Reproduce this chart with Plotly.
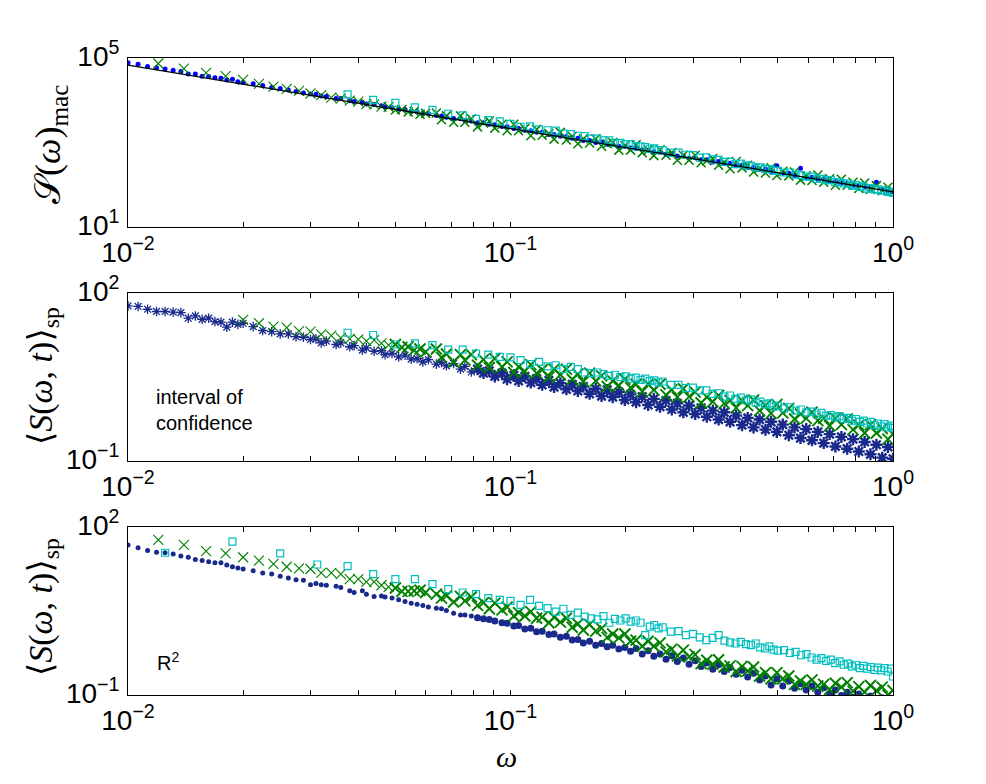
import plotly.graph_objects as go

# ---------------- frequency grids (omega) ----------------
omega_blue_sparse = [0.01, 0.010625, 0.01125, 0.011875, 0.0125, 0.013125, 0.01375, 0.014375,
                     0.015, 0.015625, 0.01625, 0.016875, 0.0175, 0.018125, 0.01875, 0.019375,
                     0.02, 0.02125, 0.0225, 0.02375, 0.025, 0.02625, 0.0275, 0.02875, 0.03]
omega_dense = [0.031, 0.032, 0.033, 0.035, 0.036, 0.038, 0.039, 0.041, 0.042, 0.044,
               0.046, 0.047, 0.049, 0.051, 0.053, 0.055, 0.057, 0.059, 0.061, 0.064,
               0.066, 0.068, 0.071, 0.074, 0.076, 0.079, 0.082, 0.085, 0.088, 0.091,
               0.095, 0.098, 0.102, 0.105, 0.109, 0.113, 0.117, 0.121, 0.126, 0.130,
               0.135, 0.140, 0.145, 0.150, 0.155, 0.161, 0.167, 0.173, 0.179, 0.185,
               0.192, 0.199, 0.206, 0.213, 0.221, 0.229, 0.237, 0.246, 0.255, 0.264,
               0.273, 0.283, 0.293, 0.304, 0.315, 0.326, 0.338, 0.350, 0.362, 0.375,
               0.389, 0.403, 0.417, 0.432, 0.448, 0.464, 0.480, 0.497, 0.515, 0.534,
               0.553, 0.573, 0.593, 0.614, 0.636, 0.659, 0.683, 0.707, 0.733, 0.759,
               0.786, 0.814, 0.843, 0.873, 0.905, 0.937, 0.970, 1.000]
omega_green_sparse = [0.012, 0.014, 0.016, 0.018, 0.020, 0.022, 0.024, 0.026, 0.028, 0.030,
                      0.032, 0.034, 0.036, 0.038, 0.040, 0.042, 0.044, 0.046, 0.048, 0.050,
                      0.052, 0.054, 0.056, 0.058, 0.060]
omega_cyan = [0.0125, 0.01875, 0.025, 0.03125, 0.0375, 0.04375, 0.05, 0.05625, 0.0625, 0.06875,
              0.075, 0.08125, 0.0875, 0.09375, 0.1, 0.10625, 0.1125, 0.11875, 0.125, 0.13125,
              0.1375, 0.14375, 0.15, 0.15625, 0.1625, 0.16875, 0.175, 0.18125, 0.1875, 0.19375,
              0.2, 0.20625, 0.2125, 0.21875, 0.225, 0.23125, 0.2375, 0.24375, 0.25,
              0.2625, 0.275, 0.2875, 0.3, 0.3125, 0.325, 0.3375, 0.35, 0.3625, 0.375,
              0.3875, 0.4, 0.4125, 0.425, 0.4375, 0.45, 0.4625, 0.475, 0.4875, 0.5,
              0.51875, 0.5375, 0.55625, 0.575, 0.59375, 0.6125, 0.63125, 0.65, 0.66875, 0.6875,
              0.70625, 0.725, 0.74375, 0.7625, 0.78125, 0.8, 0.81875, 0.8375, 0.85625, 0.875,
              0.89375, 0.9125, 0.93125, 0.95, 0.96875, 0.9875, 1.0]
omega_fit = [0.01, 1.0]

omega_blue = omega_blue_sparse + omega_dense
omega_green = omega_green_sparse + omega_dense[19:]

# ---------------- values (stored as log10 of the plotted quantity) ----------------
# Panel 1: S(omega)_mac
mac_blue_log = [4.89, 4.85, 4.80, 4.77, 4.74, 4.71, 4.68, 4.62, 4.62, 4.57, 4.56, 4.53, 4.52, 4.48, 4.50,
                4.44, 4.42, 4.39, 4.35, 4.30, 4.28, 4.24, 4.21, 4.17, 4.15,
                4.14, 4.10, 4.09, 4.04, 4.04, 3.99, 3.97, 3.95, 3.91, 3.90,
                3.87, 3.84, 3.83, 3.79, 3.78, 3.74, 3.73, 3.69, 3.68, 3.64,
                3.63, 3.60, 3.57, 3.56, 3.52, 3.51, 3.47, 3.47, 3.43, 3.42,
                3.38, 3.37, 3.33, 3.33, 3.29, 3.28, 3.24, 3.24, 3.19, 3.19,
                3.15, 3.14, 3.10, 3.10, 3.05, 3.05, 3.00, 3.01, 2.96, 2.95,
                2.91, 2.91, 2.87, 2.86, 2.82, 2.82, 2.78, 2.77, 2.72, 2.73,
                2.68, 2.68, 2.63, 2.64, 2.59, 2.59, 2.54, 2.55, 2.50, 2.51,
                2.45, 2.46, 2.40, 2.41, 2.36, 2.37, 2.31, 2.45, 2.27, 2.27,
                2.22, 2.39, 2.17, 2.18, 2.13, 2.13, 2.08, 2.08, 2.04, 2.03,
                1.99, 1.99, 1.95, 1.94, 2.06, 1.89, 1.85, 1.84]
mac_green_log = [4.87, 4.75, 4.65, 4.57, 4.48, 4.39, 4.32, 4.27, 4.22, 4.16, 4.12, 4.06, 4.04,
                 3.99, 3.97, 3.91, 3.90, 3.85, 3.84, 3.77, 3.78, 3.72, 3.74, 3.67, 3.69,
                 3.70, 3.54, 3.63, 3.48, 3.63, 3.48, 3.56, 3.37, 3.46, 3.51,
                 3.34, 3.43, 3.28, 3.43, 3.28, 3.33, 3.16, 3.31, 3.17, 3.21,
                 3.08, 3.24, 3.06, 3.15, 2.97, 3.09, 2.99, 3.09, 2.91, 2.97,
                 3.00, 2.82, 2.93, 2.82, 2.95, 2.76, 2.82, 2.69, 2.83, 2.70,
                 2.76, 2.58, 2.70, 2.58, 2.70, 2.52, 2.57, 2.62, 2.46, 2.54,
                 2.38, 2.55, 2.40, 2.46, 2.30, 2.39, 2.28, 2.40, 2.22, 2.32,
                 2.21, 2.30, 2.11, 2.21, 2.10, 2.23, 2.06, 2.14, 1.99, 2.13,
                 1.99, 2.06, 1.91, 2.04, 1.89, 1.98, 1.86, 1.94, 1.86]
mac_cyan_log = [4.14, 4.01, 3.94, 3.83, 3.77, 3.68, 3.64, 3.56, 3.53, 3.50, 3.44, 3.37, 3.38, 3.31,
                3.29, 3.28, 3.21, 3.20, 3.16, 3.15, 3.09, 3.09, 3.05, 3.05, 2.99, 2.99, 2.96, 2.96,
                2.91, 2.91, 2.89, 2.85, 2.86, 2.82, 2.82,
                2.76, 2.76, 2.71, 2.70, 2.64, 2.65, 2.60, 2.59, 2.54, 2.54,
                2.49, 2.50, 2.46, 2.45, 2.41, 2.41, 2.38, 2.37, 2.33, 2.33,
                2.29, 2.29, 2.24, 2.23, 2.19, 2.19, 2.14, 2.14, 2.11, 2.11, 2.06, 2.06, 2.03, 2.03,
                1.98, 1.99, 1.95, 1.96, 1.91, 1.92, 1.89, 1.89, 1.86, 1.87, 1.83, 1.83, 1.81]
mac_fit = [68000, 68]

# Panel 2: <S(omega,t)>_sp, interval of confidence
conf_blue_log = [1.77, 1.76, 1.71, 1.67, 1.67, 1.66, 1.65, 1.55, 1.59, 1.53, 1.55, 1.49, 1.48, 1.39,
                 1.48, 1.44, 1.46, 1.40, 1.33, 1.31, 1.27, 1.27, 1.22, 1.21, 1.17,
                 1.18, 1.11, 1.14, 1.08, 1.11, 1.04, 1.06, 0.98, 1.02, 0.96,
                 0.97, 0.90, 0.92, 0.86, 0.89, 0.82, 0.83, 0.77, 0.81, 0.73,
                 0.76, 0.70, 0.74, 0.64, 0.69, 0.59, 0.64, 0.57, 0.61, 0.51,
                 0.57, 0.46, 0.53, 0.43, 0.51, 0.40, 0.47, 0.36, 0.44, 0.32,
                 0.39, 0.28, 0.37, 0.25, 0.33, 0.20, 0.29, 0.16, 0.27, 0.14,
                 0.23, 0.09, 0.19, 0.05, 0.15, 0.00, 0.11, -0.03, 0.08, -0.08,
                 0.03, -0.13, -0.01, -0.16, -0.05, -0.21, -0.10, -0.26, -0.13, -0.30,
                 -0.19, -0.36, -0.23, -0.40, -0.26, -0.44, -0.30, -0.48, -0.35, -0.54,
                 -0.40, -0.59, -0.43, -0.63, -0.48, -0.68, -0.52, -0.74, -0.57, -0.78,
                 -0.61, -0.83, -0.66, -0.88, -0.71, -0.94, -0.75, -0.96]
conf_green_log = [1.52, 1.46, 1.40, 1.38, 1.32, 1.31, 1.26, 1.24, 1.20, 1.18, 1.17, 1.14, 1.16,
                  1.10, 1.07, 1.08, 1.03, 1.04, 0.98, 1.00, 0.95,
                  1.00, 0.85, 0.91, 0.77, 0.90, 0.80, 0.90, 0.71, 0.81, 0.67,
                  0.83, 0.68, 0.77, 0.58, 0.68, 0.60, 0.72, 0.57, 0.63, 0.50,
                  0.64, 0.54, 0.64, 0.46, 0.55, 0.42, 0.57, 0.43, 0.52, 0.33,
                  0.43, 0.35, 0.46, 0.31, 0.37, 0.24, 0.37, 0.27, 0.37, 0.18,
                  0.27, 0.14, 0.29, 0.15, 0.23, 0.04, 0.14, 0.06, 0.17, 0.03,
                  0.08, -0.05, 0.08, -0.01, 0.09, -0.10, -0.01, -0.15, 0.01, -0.14,
                  -0.06, -0.25, -0.16, -0.24, -0.13, -0.28, -0.24, -0.37, -0.24, -0.35,
                  -0.25, -0.44, -0.36, -0.50, -0.35, -0.50, -0.42, -0.61, -0.52]
conf_cyan_log = [1.29, 1.25, 1.08, 1.10, 1.07, 0.99, 0.99, 0.92, 0.90, 0.86, 0.85, 0.80, 0.73, 0.77,
                 0.69, 0.71, 0.64, 0.68, 0.64, 0.58, 0.57, 0.58, 0.55, 0.52, 0.54, 0.50, 0.51, 0.47,
                 0.49, 0.45, 0.47, 0.43, 0.44, 0.40, 0.42,
                 0.36, 0.36, 0.30, 0.31, 0.26, 0.26, 0.20, 0.21, 0.15, 0.17,
                 0.11, 0.13, 0.08, 0.10, 0.04, 0.06, 0.01, 0.03, -0.03, -0.01,
                 -0.06, -0.04, -0.10, -0.08, -0.13, -0.12, -0.17, -0.14, -0.19, -0.18, -0.22, -0.20,
                 -0.25, -0.23, -0.28, -0.25, -0.30, -0.28, -0.33, -0.30, -0.36, -0.33, -0.38, -0.34,
                 -0.40, -0.37, -0.41]

# Panel 3: <S(omega,t)>_sp, R^2
r2_blue_log = [1.68, 1.63, 1.58, 1.55, 1.54, 1.52, 1.48, 1.46, 1.42, 1.40, 1.38, 1.36, 1.36, 1.32,
               1.29, 1.27, 1.25, 1.22, 1.18, 1.16, 1.12, 1.09, 1.06, 1.05, 0.97,
               0.99, 0.97, 0.96, 0.94, 0.92, 0.86, 0.83, 0.86, 0.80, 0.76,
               0.77, 0.75, 0.73, 0.70, 0.67, 0.64, 0.62, 0.60, 0.57, 0.55,
               0.54, 0.51, 0.46, 0.43, 0.43, 0.41, 0.38, 0.36, 0.35, 0.32,
               0.29, 0.28, 0.23, 0.24, 0.18, 0.19, 0.13, 0.14, 0.08, 0.09,
               0.03, 0.05, -0.02, -0.01, -0.07, -0.04, -0.11, -0.08, -0.14, -0.11,
               -0.18, -0.15, -0.22, -0.17, -0.27, -0.21, -0.31, -0.27, -0.36, -0.30,
               -0.40, -0.34, -0.45, -0.39, -0.49, -0.43, -0.54, -0.46, -0.58, -0.51,
               -0.63, -0.56, -0.68, -0.61, -0.73, -0.66, -0.82, -0.71, -0.84, -0.75,
               -0.88, -0.80, -0.91, -0.84, -0.95, -0.87, -0.98, -0.91, -1.01, -0.95,
               -1.04, -0.98, -1.07, -1.02, -1.10, -1.05, -1.13, -1.08]
r2_green_log = [1.77, 1.68, 1.57, 1.53, 1.46, 1.40, 1.34, 1.29, 1.26, 1.25, 1.18, 1.18, 1.16,
                1.07, 1.07, 1.02, 1.02, 0.96, 0.93, 0.91, 0.85, 0.85, 0.86, 0.87, 0.83,
                0.80, 0.73, 0.77, 0.66, 0.76, 0.68, 0.75, 0.60, 0.65, 0.54,
                0.64, 0.52, 0.57, 0.41, 0.47, 0.41, 0.49, 0.37, 0.39, 0.29,
                0.39, 0.30, 0.37, 0.21, 0.27, 0.16, 0.26, 0.14, 0.19, 0.03,
                0.09, 0.02, 0.09, -0.04, -0.02, -0.13, -0.04, -0.13, -0.07, -0.23,
                -0.18, -0.30, -0.20, -0.32, -0.28, -0.44, -0.38, -0.45, -0.37, -0.50,
                -0.48, -0.58, -0.49, -0.57, -0.50, -0.66, -0.60, -0.71, -0.60, -0.71,
                -0.66, -0.81, -0.75, -0.81, -0.73, -0.84, -0.81, -0.90, -0.79, -0.86,
                -0.78, -0.93, -0.85, -0.95, -0.83, -0.92, -0.86, -1.00, -0.92]
r2_cyan_log = [1.54, 1.74, 1.53, 1.33, 1.30, 1.16, 1.07, 1.07, 0.98, 0.89, 0.83, 0.80, 0.73, 0.70,
               0.68, 0.61, 0.70, 0.59, 0.55, 0.49, 0.54, 0.43, 0.47, 0.40, 0.37, 0.35, 0.41, 0.29,
               0.36, 0.33, 0.37, 0.31, 0.33, 0.29, 0.07, 0.22, 0.25, 0.19, 0.21,
               0.13, 0.14, 0.07, 0.09, 0.03, -0.02, 0.02, 0.07, -0.03, -0.06,
               -0.08, -0.05, -0.09, -0.11, -0.08, -0.15, -0.17, -0.13, -0.19, -0.21,
               -0.20, -0.25, -0.23, -0.29, -0.27, -0.33, -0.37, -0.34, -0.39, -0.37, -0.43, -0.40,
               -0.46, -0.44, -0.49, -0.46, -0.52, -0.48, -0.53, -0.50, -0.55, -0.51, -0.56, -0.52,
               -0.58, -0.53, -0.67]

# ---------------- tick labels ----------------
x_major_vals = [0.01, 0.1, 1.0]
x_major_text = ["10<sup>\u22122</sup>", "10<sup>\u22121</sup>", "10<sup>0</sup>"]
x_minor_vals = [0.02, 0.03, 0.04, 0.05, 0.06, 0.07, 0.08, 0.09,
                0.2, 0.3, 0.4, 0.5, 0.6, 0.7, 0.8, 0.9]
y1_tick_vals = [10, 100000]
y1_tick_text = ["10<sup>1</sup>", "10<sup>5</sup>"]
y23_tick_vals = [0.1, 100]
y23_tick_text = ["10<sup>\u22121</sup>", "10<sup>2</sup>"]

BLUE = "#0000ff"
NAVY = "#1a2a8c"
GREEN = "#008000"
CYAN = "#00bfbf"


def pw(vals):
    return [10 ** v for v in vals]


fig = go.Figure()


def add_points(x, ylog, ax, color, symbol, size_s, size_d, w_s, w_d, split=0.05):
    assert len(x) == len(ylog), (len(x), len(ylog))
    sizes = [size_s if xv < split else size_d for xv in x]
    widths = [w_s if xv < split else w_d for xv in x]
    fig.add_trace(go.Scatter(
        x=x, y=pw(ylog), mode="markers", xaxis="x" + ax, yaxis="y" + ax, opacity=1,
        marker=dict(symbol=symbol, size=sizes, color=color, opacity=1,
                    line=dict(color=color, width=widths)),
        showlegend=False, hoverinfo="skip"))


# panel 1
add_points(omega_blue, mac_blue_log, "", BLUE, "circle", 5, 5, 0, 0)
add_points(omega_green, mac_green_log, "", GREEN, "x-thin-open", 10, 9, 1.1, 1.5)
add_points(omega_cyan[4:], mac_cyan_log, "", CYAN, "square-open", 7, 7, 1.2, 1.2)
fig.add_trace(go.Scatter(x=omega_fit, y=mac_fit, mode="lines", xaxis="x", yaxis="y",
                         line=dict(color="black", width=1.2), showlegend=False, hoverinfo="skip"))
# panel 2
add_points(omega_blue, conf_blue_log, "2", NAVY, "asterisk-open", 8, 10, 1.3, 2.4, split=0.08)
add_points(omega_green[4:], conf_green_log, "2", GREEN, "x-thin-open", 10, 11, 1.1, 1.9)
add_points(omega_cyan[4:], conf_cyan_log, "2", CYAN, "square-open", 7, 7, 1.2, 1.2)
# panel 3
add_points(omega_blue, r2_blue_log, "3", NAVY, "circle", 5, 7, 0, 0, split=0.08)
add_points(omega_green, r2_green_log, "3", GREEN, "x-thin-open", 10, 11, 1.1, 1.9)
add_points(omega_cyan, r2_cyan_log, "3", CYAN, "square-open", 7, 7, 1.2, 1.2)

W, H = 986, 784
xdom = [128 / W, 893 / W]
ydoms = [[1 - 227 / H, 1 - 58 / H], [1 - 461 / H, 1 - 293 / H], [1 - 695 / H, 1 - 527 / H]]
tickfont = dict(family="Liberation Sans, Arial, sans-serif", size=28, color="black")

layout = dict(width=W, height=H, margin=dict(l=0, r=0, t=0, b=0, autoexpand=False),
              paper_bgcolor="white", plot_bgcolor="white", showlegend=False,
              font=dict(color="black"))
for i, suffix in enumerate(["", "2", "3"]):
    layout["xaxis" + suffix] = dict(
        type="log", range=[-2, 0], domain=xdom, anchor="y" + suffix, automargin=False,
        tickmode="array", tickvals=x_major_vals, ticktext=x_major_text,
        ticks="inside", ticklen=5, tickcolor="black", tickwidth=1,
        minor=dict(tickmode="array", tickvals=x_minor_vals, ticks="inside", ticklen=5,
                   tickcolor="black", tickwidth=1, showgrid=False),
        mirror="ticks", showline=True, linecolor="black", linewidth=1,
        showgrid=False, zeroline=False, tickfont=tickfont, ticklabelstandoff=0)
    layout["yaxis" + suffix] = dict(
        type="log", range=[1, 5] if i == 0 else [-1, 2], domain=ydoms[i], anchor="x" + suffix,
        automargin=False, tickmode="array",
        tickvals=y1_tick_vals if i == 0 else y23_tick_vals,
        ticktext=y1_tick_text if i == 0 else y23_tick_text,
        ticks="", showline=True, mirror=True, linecolor="black", linewidth=1,
        showgrid=False, zeroline=False, tickfont=tickfont, ticklabelstandoff=2,
        ticklabelshift=-2)
fig.update_layout(**layout)

serif = "Liberation Serif, DejaVu Serif, serif"
sans = "Liberation Sans, Arial, sans-serif"
ann = [
    dict(text="\U0001D4AE(<i>\u03c9</i>)<sub>mac</sub>", x=50 / W, y=1 - 145 / H, textangle=-90,
         font=dict(family=serif, size=36, color="black")),
    dict(text="\u27e8<i>S</i>(<i>\u03c9</i>, <i>t</i>)\u27e9<sub>sp</sub>", x=43 / W, y=1 - 376 / H,
         textangle=-90, font=dict(family=serif, size=34, color="black")),
    dict(text="\u27e8<i>S</i>(<i>\u03c9</i>, <i>t</i>)\u27e9<sub>sp</sub>", x=43 / W, y=1 - 607 / H,
         textangle=-90, font=dict(family=serif, size=34, color="black")),
    dict(text="<i>\u03c9</i>", x=506 / W, y=1 - 756 / H, font=dict(family=serif, size=30, color="black")),
    dict(text="interval of<br>confidence", x=154 / W, y=1 - 410 / H, xanchor="left", align="left",
         font=dict(family=sans, size=20, color="black")),
    dict(text="R<sup>2</sup>", x=155 / W, y=1 - 661 / H, xanchor="left", align="left",
         font=dict(family=sans, size=20, color="black")),
]
for a in ann:
    a.update(xref="paper", yref="paper", showarrow=False)
    a.setdefault("xanchor", "center")
    a.setdefault("yanchor", "middle")
fig.update_layout(annotations=ann)

fig.write_html("out.html")
